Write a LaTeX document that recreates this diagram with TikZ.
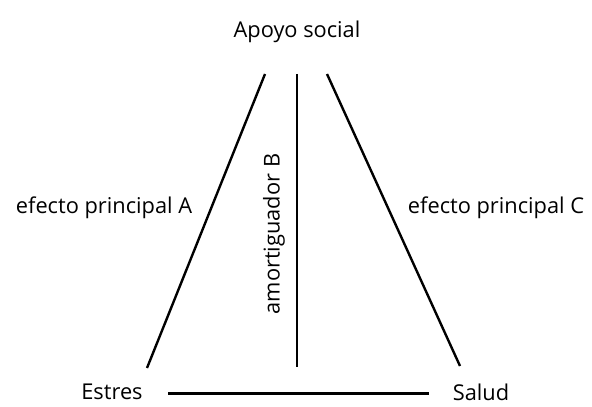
\documentclass[tikz,border=0pt]{standalone}
\usepackage{fontspec}
\setmainfont{Open Sans}
\usepackage{tikz}

\begin{document}
\begin{tikzpicture}[
    x=0.025cm, y=-0.025cm,
    lbl/.style={font=\fontsize{15.5}{19}\selectfont, inner sep=0pt},
    edge/.style={line width=1.7pt, black}
  ]
    \useasboundingbox (0,0) rectangle (592,407);
    \node[lbl] (apoyo) at (297,32) {Apoyo social};
    \node[lbl] (estres) at (112,392) {Estres};
    \node[lbl] (salud) at (481,392) {Salud};
    \node[lbl] (efa) at (104,208) {efecto principal A};
    \node[lbl] (efc) at (496,208) {efecto principal C};
    \node[lbl, rotate=90] (amort) at (274,234) {amortiguador B};
    \coordinate (la) at (265,74);
    \coordinate (lb) at (147,368);
    \coordinate (ma) at (297,74);
    \coordinate (mb) at (297,367);
    \coordinate (ra) at (327,74);
    \coordinate (rb) at (460,366);
    \draw[edge] (la) -- (lb);
    \draw[edge] (ma) -- (mb);
    \draw[edge] (ra) -- (rb);
    \draw[edge] ([xshift=18pt,yshift=-1pt]estres.east) -- ([xshift=-17pt,yshift=-1pt]salud.west);
  \end{tikzpicture}
\end{document}
